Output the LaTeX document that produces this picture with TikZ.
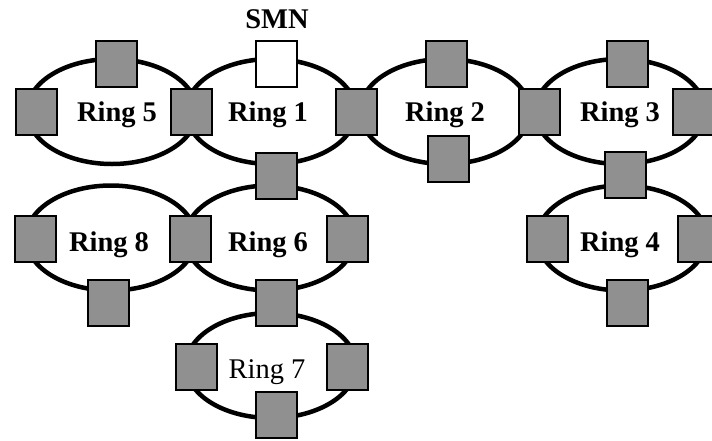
\documentclass[tikz,border=0pt]{standalone}
\usepackage{fontspec}
\setmainfont{Liberation Serif}
\usetikzlibrary{shapes.geometric}
\definecolor{stationgray}{RGB}{144,144,144}
\tikzset{
  ring/.style={ellipse, draw=black, line width=4.5pt, minimum width=170pt,
    minimum height=105pt, inner sep=0pt},
  station/.style={rectangle, draw=black, line width=2pt, fill=stationgray,
    minimum width=41pt, minimum height=46pt, inner sep=0pt},
  smnbox/.style={station, fill=white},
  ringlabel/.style={anchor=base, inner sep=0pt,
    font=\fontsize{28.5}{34}\selectfont\bfseries},
  plainlabel/.style={ringlabel, font=\fontsize{28.5}{34}\selectfont},
}
\begin{document}
\begin{tikzpicture}[x=1pt, y=-1pt]
\useasboundingbox (0,0) rectangle (712,440);
\clip (0,0) rectangle (712,440);

% rings
\node[ring] (r5) at (112,111.5) {};
\node[ring] (r1) at (271,111.5) {};
\node[ring] (r2) at (445,111.5) {};
\node[ring] (r3) at (620,111.5) {};
\node[ring] (r8) at (111,238) {};
\node[ring] (r6) at (270,238) {};
\node[ring] (r4) at (622,238) {};
\node[ring] (r7) at (271,365.5) {};

% ring names
\node[ringlabel] (l5) at (117,121) {Ring 5};
\node[ringlabel] (l1) at (268,121) {Ring 1};
\node[ringlabel] (l2) at (445,121) {Ring 2};
\node[ringlabel] (l3) at (620,121) {Ring 3};
\node[ringlabel] (l8) at (109,251.5) {Ring 8};
\node[ringlabel] (l6) at (268,251.5) {Ring 6};
\node[ringlabel] (l4) at (620,251.5) {Ring 4};
\node[plainlabel] (l7) at (267,378.5) {Ring 7};
\node[ringlabel] (lsmn) at (277,28) {SMN};

% stations on ring 5
\node[station] (s5t) at (116,64) {};
\node[station] (s5l) at (36.5,111.5) {};
\node[station] (s51) at (191,111.5) {};
% stations on ring 1
\node[smnbox] (smn) at (276.5,64) {};
\node[station] (s12) at (356,111.5) {};
\node[station] (s16) at (276,175.5) {};
% stations on ring 2
\node[station] (s2t) at (446.5,64) {};
\node[station] (s2b) at (448,159) {};
\node[station] (s23) at (539.5,111.5) {};
% stations on ring 3
\node[station] (s3t) at (627,64) {};
\node[station] (s3r) at (693.5,111.5) {};
\node[station] (s34) at (625.5,175) {};
% stations on ring 8
\node[station] (s8l) at (35,238.5) {};
\node[station] (s8b) at (108,302.5) {};
\node[station] (s86) at (190,238.5) {};
% stations on ring 6
\node[station] (s6r) at (347.5,238.5) {};
\node[station] (s67) at (276,303) {};
% stations on ring 7
\node[station] (s7l) at (196.5,366.5) {};
\node[station] (s7r) at (347.5,366.5) {};
\node[station] (s7b) at (276.5,414.5) {};
% stations on ring 4
\node[station] (s4l) at (547,238.5) {};
\node[station] (s4r) at (698.5,238.5) {};
\node[station] (s4b) at (627,302.5) {};
\end{tikzpicture}
\end{document}
